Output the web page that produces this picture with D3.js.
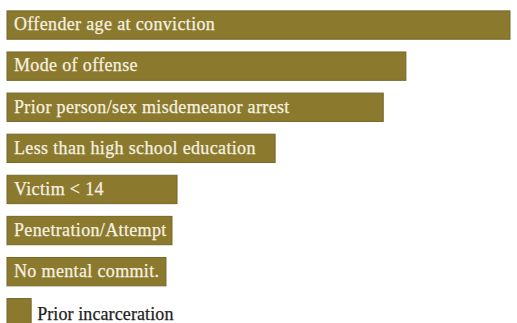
<!DOCTYPE html>
<html><head><meta charset="utf-8">
<script src="https://cdn.jsdelivr.net/npm/d3@7"></script>
<style>body{margin:0;background:#fff}svg{display:block}</style>
</head><body><svg id="c" width="517" height="323"></svg>
<script>
const categories = ["Offender age at conviction","Mode of offense","Prior person/sex misdemeanor arrest","Less than high school education","Victim < 14","Penetration/Attempt","No mental commit.","Prior incarceration"];
const values = [100, 79.3, 74.8, 53.3, 33.8, 32.8, 31.6, 4.8];

const svg = d3.select("#c");
const x = d3.scaleLinear().domain([0, 100]).range([7, 510]);
const y = d3.scaleBand().domain(categories).range([4.5, 4.5 + 8 * 41.1]).paddingInner(0.31).paddingOuter(0.155);
const fill = "#8b7a2d";
const last = categories.length - 1;

const g = svg.selectAll("g.bar").data(categories).join("g").attr("class","bar");
g.append("rect")
  .attr("x", x(0))
  .attr("y", d => y(d))
  .attr("width", (d,i) => x(values[i]) - x(0))
  .attr("height", y.bandwidth())
  .attr("fill", fill)
  .attr("stroke", "#75662a")
  .attr("stroke-width", 1);
g.append("text")
  .attr("x", (d,i) => i === last ? x(values[i]) + 6 : x(0) + 7)
  .attr("y", (d,i) => y(d) + (i === last ? 21 : 19.5))
  .attr("font-family", "Liberation Serif, serif")
  .attr("font-size", 18)
  .attr("letter-spacing", (d,i) => i === last ? 0.1 : 0.35)
  .attr("fill", (d,i) => i === last ? "#1e1e1e" : "#f6f1e2")
  .attr("stroke", (d,i) => i === last ? "#1e1e1e" : "#f6f1e2")
  .attr("stroke-width", 0.25)
  .text(d => d);
</script></body></html>
